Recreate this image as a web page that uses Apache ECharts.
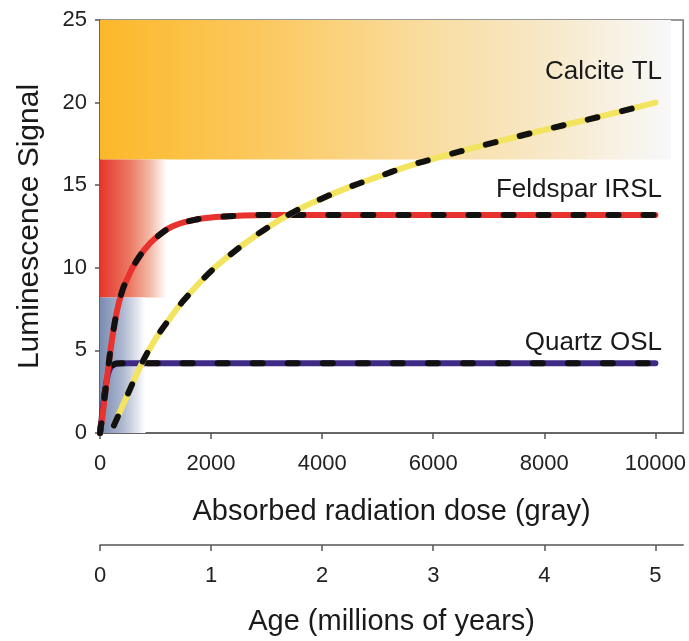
<!DOCTYPE html>
<html>
<head>
<meta charset="utf-8">
<script src="https://cdn.jsdelivr.net/npm/echarts@6/dist/echarts.min.js"></script>
<style>html,body{margin:0;padding:0;background:#fff;}#c{width:689px;height:641px;}</style>
</head>
<body>
<div id="c"></div>
<script>
// [dose (gray), luminescence signal]
const quartzOSL = [[0,0],[30,0.9],[60,1.8],[100,2.8],[140,3.5],[180,3.9],[230,4.1],[300,4.2],[500,4.22],[1000,4.22],[10000,4.22]];
const feldsparIRSL = [[0,0],[50,1.2],[100,2.6],[150,4.0],[200,5.3],[300,7.3],[400,8.6],[500,9.4],[600,10.1],[800,11.1],[1000,11.8],[1300,12.5],[1700,12.9],[2000,13.05],[2500,13.15],[3000,13.2],[10000,13.2]];
const calciteTL = [[250,0.45],[500,2.35],[750,4.2],[1000,5.7],[1250,6.9],[1500,8.0],[2000,9.8],[2500,11.2],[3000,12.4],[3500,13.4],[4000,14.2],[4500,14.9],[5000,15.5],[5500,16.1],[6000,16.6],[7000,17.5],[8000,18.35],[9000,19.15],[10000,20.0]];
const labels = [
  {name:'Calcite TL', coord:[10120, 21.85]},
  {name:'Feldspar IRSL', coord:[10120, 14.72]},
  {name:'Quartz OSL', coord:[10120, 5.45]}
];
// shaded sensitivity ranges: [x0, y0, x1, y1]
const calciteRange = [0, 16.55, 10280, 25];
const feldsparRange = [0, 8.2, 1200, 16.55];
const quartzRange = [0, 0, 820, 8.2];

const chart = echarts.init(document.getElementById('c'));
const G = echarts.graphic.LinearGradient;
function area(r, stops){
  return [{xAxis:r[0], yAxis:r[1], itemStyle:{color:new G(0,0,1,0,stops)}},{xAxis:r[2], yAxis:r[3]}];
}
function pair(name, data, color, z){
  return [
    {name:name, type:'line', data:data, smooth:0.4, showSymbol:false, z:z,
     lineStyle:{color:color, width:6, cap:'round'}, silent:true},
    {name:name+'-dash', type:'line', data:data, smooth:0.4, showSymbol:false, z:z+1,
     lineStyle:{color:'#111', width:6, type:[10,25], cap:'round'}, silent:true}
  ];
}
const font = 'Liberation Sans, Arial, sans-serif';
const series = [];
const q = pair('Quartz OSL', quartzOSL, '#3F2A86', 3);
q[0].markArea = {silent:true, z:1, data:[
  area(calciteRange, [{offset:0,color:'#FBB82A'},{offset:0.26,color:'#FCC75A'},{offset:0.61,color:'#F9DFA8'},{offset:0.75,color:'#F7E6C0'},{offset:1,color:'#F8F8FA'}]),
  area(feldsparRange, [{offset:0,color:'#E5352A'},{offset:0.45,color:'#EC7A64'},{offset:0.75,color:'#F3B9A6'},{offset:1,color:'#FFFFFF'}]),
  area(quartzRange, [{offset:0,color:'#7A8CB2'},{offset:0.5,color:'#AEB8D0'},{offset:1,color:'#FFFFFF'}])
]};
q[0].markPoint = {silent:true, symbol:'circle', symbolSize:0,
  label:{show:true, position:'inside', align:'right', verticalAlign:'middle', formatter:'{b}', color:'#1a1a1a', fontSize:26, fontFamily:font},
  data: labels.map(l=>({name:l.name, coord:l.coord}))};
series.push(...q);
series.push(...pair('Feldspar IRSL', feldsparIRSL, '#E8322D', 5));
series.push(...pair('Calcite TL', calciteTL, '#F2E45E', 7));

const axisLine = {show:true, lineStyle:{color:'#555', width:1.5}};
const tick = {show:true, length:6, lineStyle:{color:'#555', width:1.5}};
const plain = v => String(v);
chart.setOption({
  animation:false,
  backgroundColor:'#fff',
  grid:{left:100, right:5, top:20, bottom:203, show:true, borderColor:'#777', borderWidth:1.5},
  xAxis:[
    {type:'value', min:0, max:10500, interval:2000, position:'bottom',
     axisLine:axisLine, axisTick:tick, splitLine:{show:false},
     axisLabel:{fontSize:22, color:'#222', margin:20, fontFamily:font, formatter:plain, showMaxLabel:false},
     name:'Absorbed radiation dose (gray)', nameLocation:'middle', nameGap:64,
     nameTextStyle:{fontSize:29, color:'#1a1a1a', fontFamily:font}},
    {type:'value', min:0, max:5.25, interval:1, position:'bottom', offset:112,
     axisLine:axisLine, axisTick:tick, splitLine:{show:false},
     axisLabel:{fontSize:22, color:'#222', margin:20, fontFamily:font, formatter:plain, showMaxLabel:false},
     name:'Age (millions of years)', nameLocation:'middle', nameGap:62,
     nameTextStyle:{fontSize:29, color:'#1a1a1a', fontFamily:font}}
  ],
  yAxis:{type:'value', min:0, max:25, interval:5,
     axisLine:axisLine, axisTick:{show:true, length:5, lineStyle:{color:'#555', width:1.5}}, splitLine:{show:false},
     axisLabel:{fontSize:22, color:'#222', margin:13, fontFamily:font},
     name:'Luminescence Signal', nameLocation:'middle', nameGap:55,
     nameTextStyle:{fontSize:30, color:'#1a1a1a', fontFamily:font}},
  series:series
});
</script>
</body>
</html>
